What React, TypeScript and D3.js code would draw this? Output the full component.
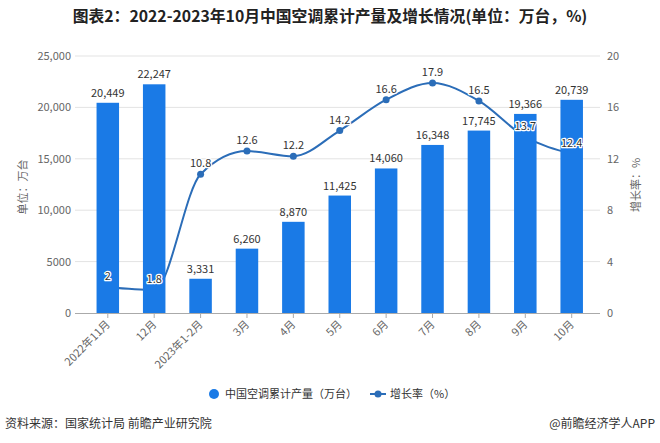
import React from 'react';
import * as d3 from 'd3';

const categories = ['2022年11月', '12月', '2023年1-2月', '3月', '4月', '5月', '6月', '7月', '8月', '9月', '10月'];
const production = [20449, 22247, 3331, 6260, 8870, 11425, 14060, 16348, 17745, 19366, 20739];
const growth = [2, 1.8, 10.8, 12.6, 12.2, 14.2, 16.6, 17.9, 16.5, 13.7, 12.4];
const leftTicks = [0, 5000, 10000, 15000, 20000, 25000];
const leftTickLabels = ['0', '5000', '10,000', '15,000', '20,000', '25,000'];
const rightTicks = [0, 4, 8, 12, 16, 20];

const W = 660;
const H = 443;
const FONT = '"Noto Sans CJK SC", "Noto Sans", sans-serif';
const BAR = '#1a7ae6';
const LINE = '#2b6db8';

export default function App() {
  const x = d3.scalePoint<string>().domain(categories).range([107.8, 571.7]);
  const yL = d3.scaleLinear().domain([0, 25000]).range([313, 56]);
  const yR = d3.scaleLinear().domain([0, 20]).range([313, 56]);
  const barW = 22.5;
  const fmt = d3.format(',');

  const line = d3
    .line<number>()
    .x((_, i) => x(categories[i]) as number)
    .y((d) => yR(d))
    .curve(d3.curveMonotoneX);

  return (
    <svg
      width={W}
      height={H}
      style={{ position: 'absolute', left: 0, top: 0, background: '#fff' }}
      fontFamily={FONT}
    >
      <text x={330} y={22} textAnchor="middle" fontSize={15.8} fontWeight="bold" fill="#222">
        图表2：2022-2023年10月中国空调累计产量及增长情况(单位：万台，%)
      </text>

      {/* gridlines */}
      {leftTicks.map((t, i) =>
        i === 0 ? null : (
          <line key={'g' + t} x1={75} x2={600} y1={yL(t)} y2={yL(t)} stroke="#e3e3e3" strokeWidth={1} />
        )
      )}

      {/* left axis labels */}
      {leftTicks.map((t, i) => (
        <text key={'l' + t} x={71} y={yL(t) + 4} textAnchor="end" fontSize={11} fill="#666">
          {leftTickLabels[i]}
        </text>
      ))}
      {/* right axis labels */}
      {rightTicks.map((t) => (
        <text key={'r' + t} x={607} y={yR(t) + 4} textAnchor="start" fontSize={11} fill="#666">
          {t}
        </text>
      ))}

      <text transform={`translate(27,187) rotate(-90)`} textAnchor="middle" fontSize={11} fill="#666">
        单位：万台
      </text>
      <text transform={`translate(640,185) rotate(-90)`} textAnchor="middle" fontSize={11} fill="#666">
        增长率：%
      </text>

      {/* line (drawn beneath bars) */}
      <path d={line(growth) || ''} fill="none" stroke={LINE} strokeWidth={2} />
      {growth.map((g, i) => (
        <circle key={'m' + i} cx={x(categories[i])} cy={yR(g)} r={3.5} fill={LINE} />
      ))}

      {/* bars */}
      {production.map((v, i) => (
        <rect
          key={'b' + i}
          x={(x(categories[i]) as number) - barW / 2}
          y={yL(v)}
          width={barW}
          height={yL(0) - yL(v)}
          fill={BAR}
        />
      ))}

      {/* x axis */}
      <line x1={75} x2={600} y1={313.5} y2={313.5} stroke="#aaa" strokeWidth={1} />
      {categories.map((c) => (
        <line key={'t' + c} x1={x(c)} x2={x(c)} y1={313.5} y2={318} stroke="#aaa" strokeWidth={1} />
      ))}
      {categories.map((c) => (
        <text
          key={'x' + c}
          transform={`translate(${(x(c) as number) + 3},${325}) rotate(-45)`}
          textAnchor="end"
          fontSize={11}
          fill="#666"
        >
          {c}
        </text>
      ))}

      {/* bar value labels */}
      {production.map((v, i) => (
        <text key={'bv' + i} x={x(categories[i])} y={yL(v) - 6} textAnchor="middle" fontSize={11} fill="#333">
          {fmt(v)}
        </text>
      ))}

      {/* line value labels */}
      {growth.map((g, i) => (
        <text
          key={'lv' + i}
          x={x(categories[i])}
          y={yR(g) - 7}
          textAnchor="middle"
          fontSize={11}
          fill="#333"
          stroke="#fff"
          strokeWidth={2.5}
          paintOrder="stroke"
          strokeLinejoin="round"
        >
          {g}
        </text>
      ))}

      {/* legend */}
      <circle cx={214} cy={394} r={5} fill={BAR} />
      <text x={225} y={398} fontSize={11} fill="#333">
        中国空调累计产量（万台）
      </text>
      <line x1={370} x2={386} y1={394} y2={394} stroke={LINE} strokeWidth={2} />
      <circle cx={378} cy={394} r={3.5} fill={LINE} />
      <text x={390} y={398} fontSize={11} fill="#333">
        增长率（%）
      </text>

      {/* footer */}
      <text x={5} y={428} fontSize={12} fill="#333">
        资料来源：国家统计局 前瞻产业研究院
      </text>
      <text x={655} y={428} textAnchor="end" fontSize={12} fill="#333">
        @前瞻经济学人APP
      </text>
    </svg>
  );
}
